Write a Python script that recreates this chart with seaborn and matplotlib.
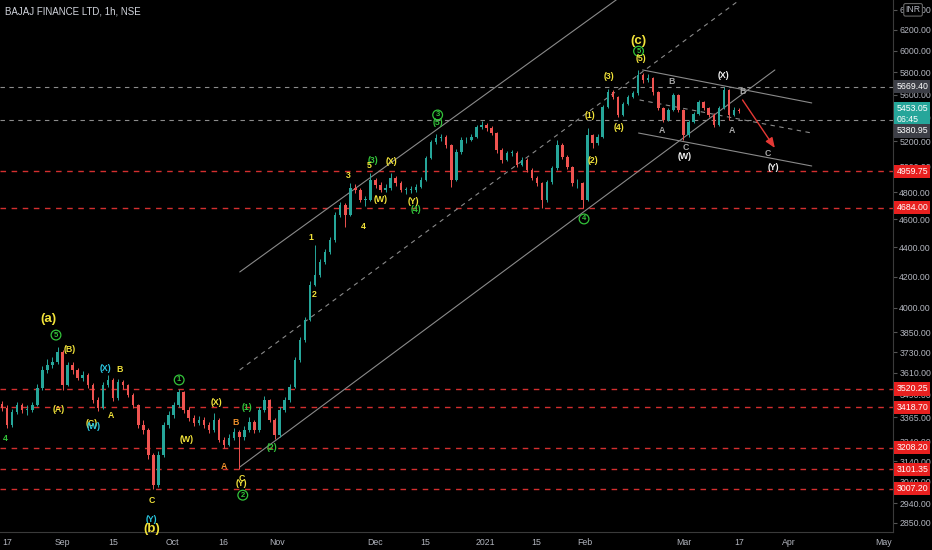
import numpy as np
import pandas as pd
import matplotlib
matplotlib.use("Agg")
import matplotlib.pyplot as plt
import seaborn as sns
from matplotlib.ticker import FixedLocator, NullLocator, FuncFormatter

# one candle per trading day (day index starts at -1 = 14 Aug)
first_open = 3440
closes = [3416, 3325, 3394, 3432, 3405, 3405, 3432, 3525, 3627, 3655,
          3672, 3731, 3542, 3655, 3627, 3581, 3598, 3542, 3459, 3416,
          3542, 3570, 3470, 3559, 3542, 3487, 3432, 3325, 3299, 3172,
          3025, 3172, 3325, 3378, 3432, 3503, 3405, 3362, 3336, 3352,
          3325, 3299, 3352, 3248, 3222, 3258, 3289, 3263, 3299, 3341,
          3299, 3405, 3459, 3352, 3273, 3405, 3459, 3531, 3684, 3802,
          3924, 4147, 4213, 4300, 4368, 4452, 4631, 4705, 4631, 4832,
          4817, 4742, 4742, 4894, 4855, 4817, 4832, 4909, 4870, 4817,
          4817, 4817, 4840, 4894, 5067, 5196, 5229, 5237, 5171, 4894,
          5115, 5212, 5212, 5237, 5320, 5337, 5312, 5270, 5131, 5051,
          5107, 5107, 5011, 5051, 4972, 4909, 4870, 4742, 4878, 4988,
          5171, 5075, 4995, 4870, 4870, 4742, 5254, 5190, 5237, 5491,
          5622, 5578, 5422, 5517, 5578, 5613, 5775, 5730, 5748, 5622,
          5482, 5379, 5465, 5596, 5465, 5254, 5362, 5430, 5534, 5482,
          5422, 5337, 5482, 5640, 5422, 5465, 5453]
highs = [3455, 3430, 3410, 3450, 3445, 3430, 3450, 3545, 3650, 3690,
         3700, 3760, 3740, 3675, 3670, 3640, 3620, 3610, 3555, 3475,
         3560, 3600, 3580, 3575, 3570, 3550, 3495, 3440, 3350, 3310,
         3180, 3190, 3340, 3400, 3450, 3522, 3510, 3420, 3380, 3375,
         3370, 3340, 3390, 3360, 3265, 3280, 3310, 3300, 3320, 3365,
         3350, 3420, 3480, 3465, 3360, 3420, 3475, 3550, 3700, 3820,
         3945, 4170, 4420, 4320, 4390, 4475, 4650, 4730, 4720, 4870,
         4860, 4830, 4770, 4950, 4910, 4875, 4860, 4950, 4925, 4885,
         4840, 4845, 4860, 4915, 5085, 5215, 5260, 5262, 5250, 5180,
         5135, 5235, 5240, 5260, 5340, 5370, 5355, 5325, 5280, 5145,
         5125, 5130, 5120, 5075, 5065, 4985, 4925, 4880, 4895, 5005,
         5212, 5185, 5090, 5005, 4900, 4880, 5312, 5265, 5260, 5510,
         5650, 5640, 5590, 5535, 5600, 5635, 5822, 5790, 5780, 5760,
         5635, 5495, 5485, 5615, 5605, 5475, 5380, 5450, 5555, 5545,
         5495, 5435, 5500, 5669, 5650, 5490, 5480]
lows = [3400, 3310, 3315, 3385, 3390, 3380, 3395, 3425, 3515, 3610,
        3640, 3660, 3515, 3535, 3605, 3570, 3565, 3525, 3445, 3400,
        3410, 3530, 3455, 3460, 3520, 3475, 3415, 3310, 3280, 3150,
        3007, 3015, 3160, 3310, 3360, 3420, 3390, 3345, 3320, 3325,
        3310, 3285, 3290, 3235, 3208, 3215, 3250, 3101, 3250, 3290,
        3285, 3290, 3395, 3340, 3255, 3265, 3395, 3450, 3525, 3670,
        3790, 3915, 4140, 4200, 4285, 4355, 4440, 4615, 4545, 4620,
        4795, 4725, 4700, 4735, 4835, 4800, 4800, 4820, 4850, 4800,
        4790, 4795, 4800, 4830, 4885, 5055, 5180, 5205, 5150, 4840,
        4885, 5100, 5185, 5200, 5225, 5305, 5290, 5250, 5110, 5030,
        5040, 5080, 4995, 5000, 4955, 4890, 4850, 4684, 4730, 4865,
        4975, 5060, 4980, 4850, 4835, 4684, 4735, 5150, 5170, 5225,
        5480, 5560, 5405, 5410, 5505, 5565, 5600, 5705, 5715, 5600,
        5465, 5360, 5370, 5455, 5445, 5212, 5240, 5350, 5420, 5465,
        5405, 5320, 5330, 5470, 5381, 5410, 5435]

red_levels = [4959.75, 4684.00, 3520.25, 3418.70, 3208.20, 3101.35, 3007.20]
gray_levels = [5669.40, 5380.95]
last_price = 5453.05
countdown = "06:45"

price_ticks = [6400, 6200, 6000, 5800, 5600, 5400, 5200, 5000, 4800, 4600, 4400,
               4200, 4000, 3850, 3730, 3610, 3490, 3365, 3240, 3140, 3040, 2940, 2850]
date_ticks = [0, 10.9, 21, 32.7, 42.8, 53.5, 72.9, 82.8, 94.7, 104.8, 114.5,
              134.1, 145, 154.9, 173.7]
date_labels = ["17", "Sep", "15", "Oct", "16", "Nov", "Dec", "15", "2021", "15",
               "Feb", "Mar", "17", "Apr", "May"]

# drawn lines: (day0, price0, day1, price1)
channel_solid = [(46.1, 4233, 123.4, 6604), (46.1, 3112, 152.1, 5821)]
channel_dashed = [(46.1, 3627, 145.1, 6500)]
corr_solid = [(125.9, 5821, 159.4, 5526), (125.1, 5270, 159.4, 5003)]
corr_dashed = [(125.3, 5552, 159.4, 5270)]
arrow_line = (145.7, 5552, 152.1, 5147)

YEL, GRN, CYA, ORA, GRY, WHT = "#f2e33a", "#33c33a", "#29c6e0", "#f0922b", "#a8a8a8", "#f0f0f0"
# wave labels: (text, day, price, colour, kind)
waves = [
    ("(a)", 8.3, 3930, YEL, "big"), ("5", 9.7, 3832, GRN, "circle"),
    ("(B)", 12.5, 3743, YEL, "txt"), ("(X)", 19.6, 3638, CYA, "txt"),
    ("B", 22.2, 3627, YEL, "txt"), ("(A)", 10.3, 3410, YEL, "txt"),
    ("A", 20.6, 3373, YEL, "txt"), ("(C)", 16.8, 3332, YEL, "txt"),
    ("(W)", 17.2, 3315, CYA, "txt"), ("4", -0.4, 3253, GRN, "txt"),
    ("1", 34.1, 3570, GRN, "circle"), ("(X)", 41.4, 3443, YEL, "txt"),
    ("(1)", 47.5, 3421, GRN, "txt"), ("B", 45.3, 3341, ORA, "txt"),
    ("(W)", 35.6, 3248, YEL, "txt"), ("(2)", 52.5, 3207, GRN, "txt"),
    ("A", 43.0, 3117, ORA, "txt"), ("C", 46.5, 3054, YEL, "txt"),
    ("(Y)", 46.5, 3030, YEL, "txt"), ("2", 46.7, 2977, GRN, "circle"),
    ("C", 28.7, 2953, YEL, "txt"), ("(Y)", 28.7, 2863, CYA, "txt"),
    ("(b)", 28.7, 2822, YEL, "big"),
    ("(3)", 72.5, 5043, GRN, "txt"), ("5", 71.7, 5003, YEL, "txt"),
    ("(X)", 76.2, 5035, YEL, "txt"), ("3", 67.7, 4932, YEL, "txt"),
    ("(W)", 74.1, 4742, YEL, "txt"), ("(Y)", 80.6, 4727, YEL, "txt"),
    ("(4)", 81.0, 4668, GRN, "txt"), ("4", 70.5, 4545, YEL, "txt"),
    ("1", 60.2, 4466, YEL, "txt"), ("2", 60.8, 4088, YEL, "txt"),
    ("3", 85.3, 5422, GRN, "circle"), ("(5)", 85.3, 5360, GRN, "txt"),
    ("(1)", 115.4, 5414, YEL, "txt"), ("(4)", 121.2, 5312, YEL, "txt"),
    ("(2)", 116.0, 5043, YEL, "txt"), ("4", 114.3, 4602, GRN, "circle"),
    ("(c)", 125.1, 6094, YEL, "big"), ("5", 125.1, 5996, GRN, "circle"),
    ("(5)", 125.5, 5930, YEL, "txt"), ("(3)", 119.2, 5757, YEL, "txt"),
    ("B", 131.7, 5712, GRY, "txt"), ("(X)", 142.0, 5766, WHT, "txt"),
    ("B", 145.7, 5631, GRY, "txt"), ("A", 129.7, 5287, GRY, "txt"),
    ("A", 143.6, 5287, GRY, "txt"), ("C", 134.5, 5155, GRY, "txt"),
    ("(W)", 134.3, 5075, WHT, "txt"), ("C", 150.7, 5099, GRY, "txt"),
    ("(Y)", 151.9, 4988, WHT, "txt"),
]

UP, DOWN = "#26a69a", "#ef5350"
AXTXT = "#b2b5be"

sns.set_theme(style="dark", rc={"axes.facecolor": "#000000", "figure.facecolor": "#000000",
                                "savefig.facecolor": "#000000"})
plt.rcParams["font.family"] = ["Liberation Sans", "DejaVu Sans"]

fig = plt.figure(figsize=(9.32, 5.5), dpi=100)
ax = fig.add_axes([0, 18 / 550, 893 / 932, 532 / 550])

df = pd.DataFrame({"day": np.arange(len(closes)) - 1, "close": closes,
                   "high": highs, "low": lows})
df["open"] = df["close"].shift(1).fillna(first_open)
df["high"] = df[["high", "open", "close"]].max(axis=1)
df["low"] = df[["low", "open", "close"]].min(axis=1)
df["color"] = np.where(df["close"] >= df["open"], UP, DOWN)
body_lo = df[["open", "close"]].min(axis=1)
body_h = (df["close"] - df["open"]).abs().clip(lower=4)

# levels
for lv in red_levels:
    ax.axhline(lv, color="#d32f2f", lw=1.0, ls=(0, (4, 4)), zorder=1)
for lv in gray_levels:
    ax.axhline(lv, color="#8c8c8c", lw=0.8, ls=(0, (4, 4)), zorder=1)

ax.vlines(df["day"], df["low"], df["high"], colors=df["color"], lw=0.7, zorder=3)
ax.bar(df["day"], body_h, bottom=body_lo, width=0.5, color=df["color"], lw=0, zorder=3)

for d0, p0, d1, p1 in channel_solid + corr_solid:
    ax.plot([d0, d1], [p0, p1], color="#8a8a8a", lw=0.8, zorder=2)
for d0, p0, d1, p1 in channel_dashed + corr_dashed:
    ax.plot([d0, d1], [p0, p1], color="#8a8a8a", lw=0.8, ls=(0, (4, 4)), zorder=2)
d0, p0, d1, p1 = arrow_line
ax.annotate("", xy=(d1, p1), xytext=(d0, p0),
            arrowprops=dict(arrowstyle="-|>,head_length=0.5,head_width=0.2",
                            color="#e53935", lw=1.0, shrinkA=0, shrinkB=0), zorder=4)

for txt, d, p, col, kind in waves:
    if kind == "big":
        ax.text(d, p, txt, color=col, fontsize=9.5, fontweight="bold", ha="center",
                va="center", zorder=6)
    elif kind == "circle":
        ax.text(d, p, txt, color=col, fontsize=5.5, fontweight="bold", ha="center",
                va="center", zorder=6,
                bbox=dict(boxstyle="circle,pad=0.18", fc="none", ec=col, lw=0.9))
    else:
        ax.text(d, p, txt, color=col, fontsize=6.3, fontweight="bold", ha="center",
                va="center", zorder=6)

ax.set_yscale("log")
ax.set_ylim(2809, 6500)
ax.set_xlim(-1.39, 175.5)
ax.yaxis.tick_right()
ax.yaxis.set_major_locator(FixedLocator(price_ticks))
ax.yaxis.set_minor_locator(NullLocator())
ax.yaxis.set_major_formatter(FuncFormatter(lambda v, _: f"{v:.2f}"))
ax.set_xticks(date_ticks)
ax.set_xticklabels(date_labels)
ax.tick_params(axis="both", colors="#555555", labelcolor=AXTXT, labelsize=6.3,
               length=3, width=0.8, pad=1.5)
ax.grid(False)
for s in ["top", "left"]:
    ax.spines[s].set_visible(False)
for s in ["bottom", "right"]:
    ax.spines[s].set_color("#3a3a3a")
    ax.spines[s].set_linewidth(0.8)


def price_box(price, text, fc, dy=0):
    ax.annotate(text, xy=(1, price), xycoords=("axes fraction", "data"),
                xytext=(2.4, dy), textcoords="offset points", ha="left", va="center",
                fontsize=6.3, color="white", annotation_clip=False, zorder=10,
                linespacing=1.2,
                bbox=dict(boxstyle="square,pad=0.25", fc=fc, ec="none"))


price_box(gray_levels[0], f"{gray_levels[0]:.2f}", "#3d3f47")
price_box(last_price, f"{last_price:.2f}\n{countdown}", "#26a69a", dy=-2)
price_box(gray_levels[1], f"{gray_levels[1]:.2f}", "#3d3f47", dy=-8)
for lv in red_levels:
    price_box(lv, f"{lv:.2f}", "#e8201f")

ax.annotate("INR", xy=(1, 6400), xycoords=("axes fraction", "data"),
            xytext=(9, 0), textcoords="offset points", ha="left", va="center",
            fontsize=6.3, color=AXTXT, annotation_clip=False, zorder=10,
            bbox=dict(boxstyle="round,pad=0.2", fc="#000000", ec="#666666", lw=0.8))

fig.text(5 / 932, 1 - 11 / 550, "BAJAJ FINANCE LTD, 1h, NSE", color="#d1d4dc",
         fontsize=7, ha="left", va="center")

fig.savefig("out.png", dpi=100, facecolor="#000000")
